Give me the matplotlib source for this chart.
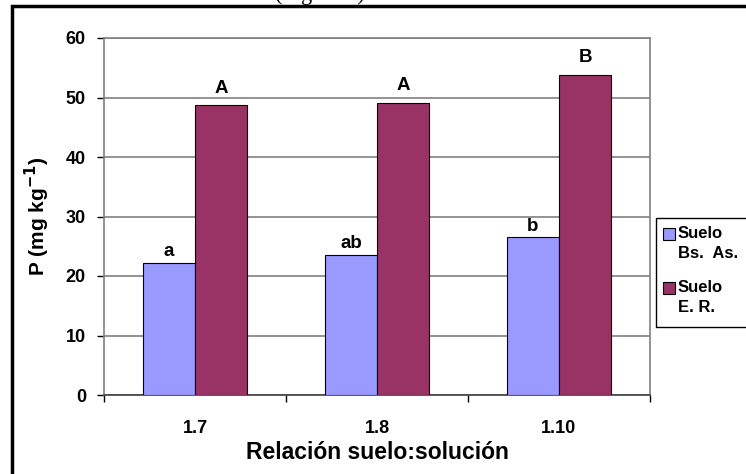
import matplotlib
matplotlib.use("Agg")
import matplotlib.pyplot as plt
from matplotlib.patches import Rectangle

categories = ["1.7", "1.8", "1.10"]
bs_as = [22.2, 23.6, 26.5]
er = [48.7, 49.1, 53.8]
bs_letters = ["a", "ab", "b"]
er_letters = ["A", "A", "B"]
series_names = [["Suelo", "Bs.  As."], ["Suelo", "E. R."]]

W, H = 746, 474
plt.rcParams['font.family'] = ['Liberation Sans', 'DejaVu Sans']
fig = plt.figure(figsize=(W / 100, H / 100), dpi=100)

def fx(px):
    return px / W

def fy(py):
    return 1 - py / H

ax = fig.add_axes([fx(104), fy(395), fx(650) - fx(104), fy(38) - fy(395)])

blue = "#9999FF"
maroon = "#993366"
colors = [blue, maroon]
bw = 0.286
x = list(range(len(categories)))
ax.bar([i - bw / 2 for i in x], bs_as, width=bw, color=blue, edgecolor="black", linewidth=0.8, zorder=3)
ax.bar([i + bw / 2 for i in x], er, width=bw, color=maroon, edgecolor="black", linewidth=0.8, zorder=3)

for i in x:
    ax.text(i - bw / 2, bs_as[i] + 1.1, bs_letters[i], ha="center", va="baseline",
            fontsize=13.5, fontweight="bold", zorder=4)
    ax.text(i + bw / 2, er[i] + 2.1, er_letters[i], ha="center", va="baseline",
            fontsize=13.5, fontweight="bold", zorder=4)

ax.set_xlim(-0.5, 2.5)
ax.set_ylim(0, 60)
ax.set_yticks(range(0, 61, 10))
ax.yaxis.grid(True, color="#808080", linewidth=1.2, zorder=0)
ax.set_axisbelow(True)

ax.set_xticks([-0.5, 0.5, 1.5, 2.5])
ax.set_xticklabels([])
ax.set_xticks(x, minor=True)
ax.set_xticklabels(categories, minor=True)
ax.tick_params(axis="x", which="major", direction="out", length=5, width=1, color="black")
ax.tick_params(axis="x", which="minor", length=0, pad=18, labelsize=13)
ax.tick_params(axis="y", direction="out", length=5, width=1, color="black", labelsize=13, pad=8)
for lab in ax.get_xticklabels(minor=True) + ax.get_yticklabels():
    lab.set_fontweight("bold")

for s in ["top", "right", "left"]:
    ax.spines[s].set_color("#808080")
    ax.spines[s].set_linewidth(1.2)
ax.spines["bottom"].set_color("#404040")
ax.spines["bottom"].set_linewidth(1.2)

ax.set_xlabel("Relación suelo:solución", fontsize=16.5, fontweight="bold", labelpad=3)
ax.set_ylabel("P (mg kg$^{\\mathbf{-1}}$)", fontsize=15, fontweight="bold", labelpad=10)

# legend box
fig.patches.append(Rectangle((fx(656), fy(327)), fx(760) - fx(656), fy(218) - fy(327),
                             transform=fig.transFigure, facecolor="white", edgecolor="black",
                             linewidth=1, zorder=2))
entry_tops = [234, 288]
for k, (name, col) in enumerate(zip(series_names, colors)):
    yc = entry_tops[k]
    fig.patches.append(Rectangle((fx(663), fy(yc + 6)), fx(675) - fx(663), fy(yc - 6) - fy(yc + 6),
                                 transform=fig.transFigure, facecolor=col, edgecolor="black",
                                 linewidth=0.8, zorder=3))
    fig.text(fx(678), fy(yc), name[0], ha="left", va="center", fontsize=12, fontweight="bold")
    fig.text(fx(678), fy(yc + 19), name[1], ha="left", va="center", fontsize=12, fontweight="bold")

# outer frame
fig.patches.append(Rectangle((fx(12), fy(490)), fx(800) - fx(12), fy(6) - fy(490),
                             transform=fig.transFigure, facecolor="none", edgecolor="black",
                             linewidth=2.5, zorder=5))

# cut-off caption at top
fig.text(fx(320), fy(5), "(Figura 1)", ha="center", va="bottom", fontsize=16,
         family="Liberation Serif")

fig.savefig("out.png", dpi=100)
